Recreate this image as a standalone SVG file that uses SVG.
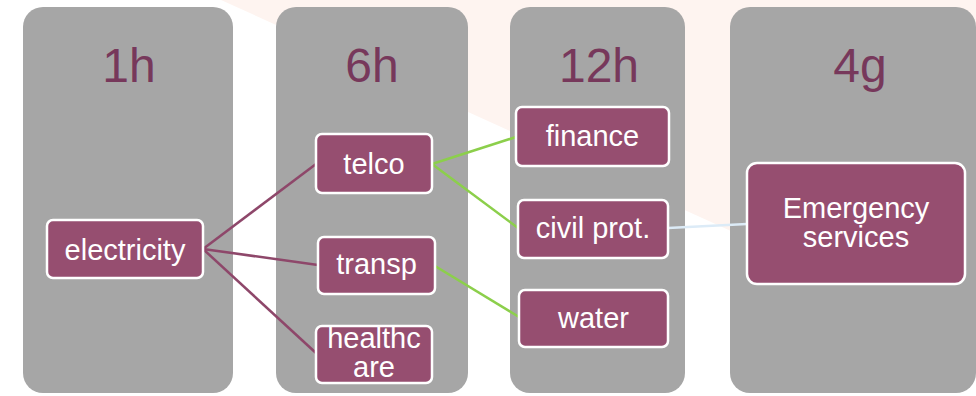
<svg xmlns="http://www.w3.org/2000/svg" width="976" height="396" viewBox="0 0 976 396">
<style>
.col{fill:#A6A6A6}
.title{font-family:"Liberation Sans",Arial,sans-serif;font-size:48px;fill:#77385B;text-anchor:middle}
.node{fill:#964E70;stroke:#FFFFFF;stroke-width:2.5}
.lbl{font-family:"Liberation Sans",Arial,sans-serif;font-size:29px;fill:#FFFFFF;text-anchor:middle}
.plum{stroke:#8E476A;stroke-width:2.5;fill:none}
.green{stroke:#8CCF4B;stroke-width:2.5;fill:none}
.blue{stroke:#DCEBF7;stroke-width:2.5;fill:none}
</style>
<rect x="0" y="0" width="976" height="396" fill="#FFFFFF"/>
<polygon points="221,0 976,0 976,342" fill="#FEF4F0"/>
<g id="col-1h"><rect class="col" x="23" y="7" width="210" height="386" rx="20"/><text class="title" x="129" y="82">1h</text></g>
<g id="col-6h"><rect class="col" x="276" y="7" width="192" height="386" rx="20"/><text class="title" x="372" y="82">6h</text></g>
<g id="col-12h"><rect class="col" x="510" y="7" width="175" height="386" rx="20"/><text class="title" x="599" y="82">12h</text></g>
<g id="col-4g"><rect class="col" x="730" y="7" width="246" height="386" rx="20"/><text class="title" x="860" y="82">4g</text></g>
<g id="connectors">
<line class="plum" x1="203" y1="249" x2="316" y2="164"/>
<line class="plum" x1="203" y1="249" x2="318" y2="265"/>
<line class="plum" x1="203" y1="249" x2="316" y2="353"/>
<line class="green" x1="432" y1="164" x2="516" y2="137"/>
<line class="green" x1="432" y1="164" x2="518" y2="228"/>
<line class="green" x1="435" y1="266" x2="519" y2="317"/>
<line class="blue" x1="668" y1="228" x2="747" y2="224"/>
</g>
<g id="electricity"><rect class="node" x="47" y="220" width="156" height="58" rx="6"/><text class="lbl" x="125" y="260">electricity</text></g>
<g id="telco"><rect class="node" x="316" y="134" width="116" height="59" rx="6"/><text class="lbl" x="374" y="174">telco</text></g>
<g id="transp"><rect class="node" x="318" y="237" width="117" height="57" rx="6"/><text class="lbl" x="376.5" y="274">transp</text></g>
<g id="healthcare"><rect class="node" x="316" y="326" width="116" height="57" rx="6"/><text class="lbl" x="374" y="348">healthc</text><text class="lbl" x="374" y="377">are</text></g>
<g id="finance"><rect class="node" x="516" y="107" width="153" height="59" rx="6"/><text class="lbl" x="592.5" y="146">finance</text></g>
<g id="civil-prot"><rect class="node" x="518" y="200" width="150" height="58" rx="6"/><text class="lbl" x="593" y="238">civil prot.</text></g>
<g id="water"><rect class="node" x="519" y="290" width="149" height="57" rx="6"/><text class="lbl" x="593.5" y="328">water</text></g>
<g id="emergency"><rect class="node" x="747" y="163" width="218" height="121" rx="10"/><text class="lbl" x="856" y="218">Emergency</text><text class="lbl" x="856" y="247">services</text></g>
</svg>
